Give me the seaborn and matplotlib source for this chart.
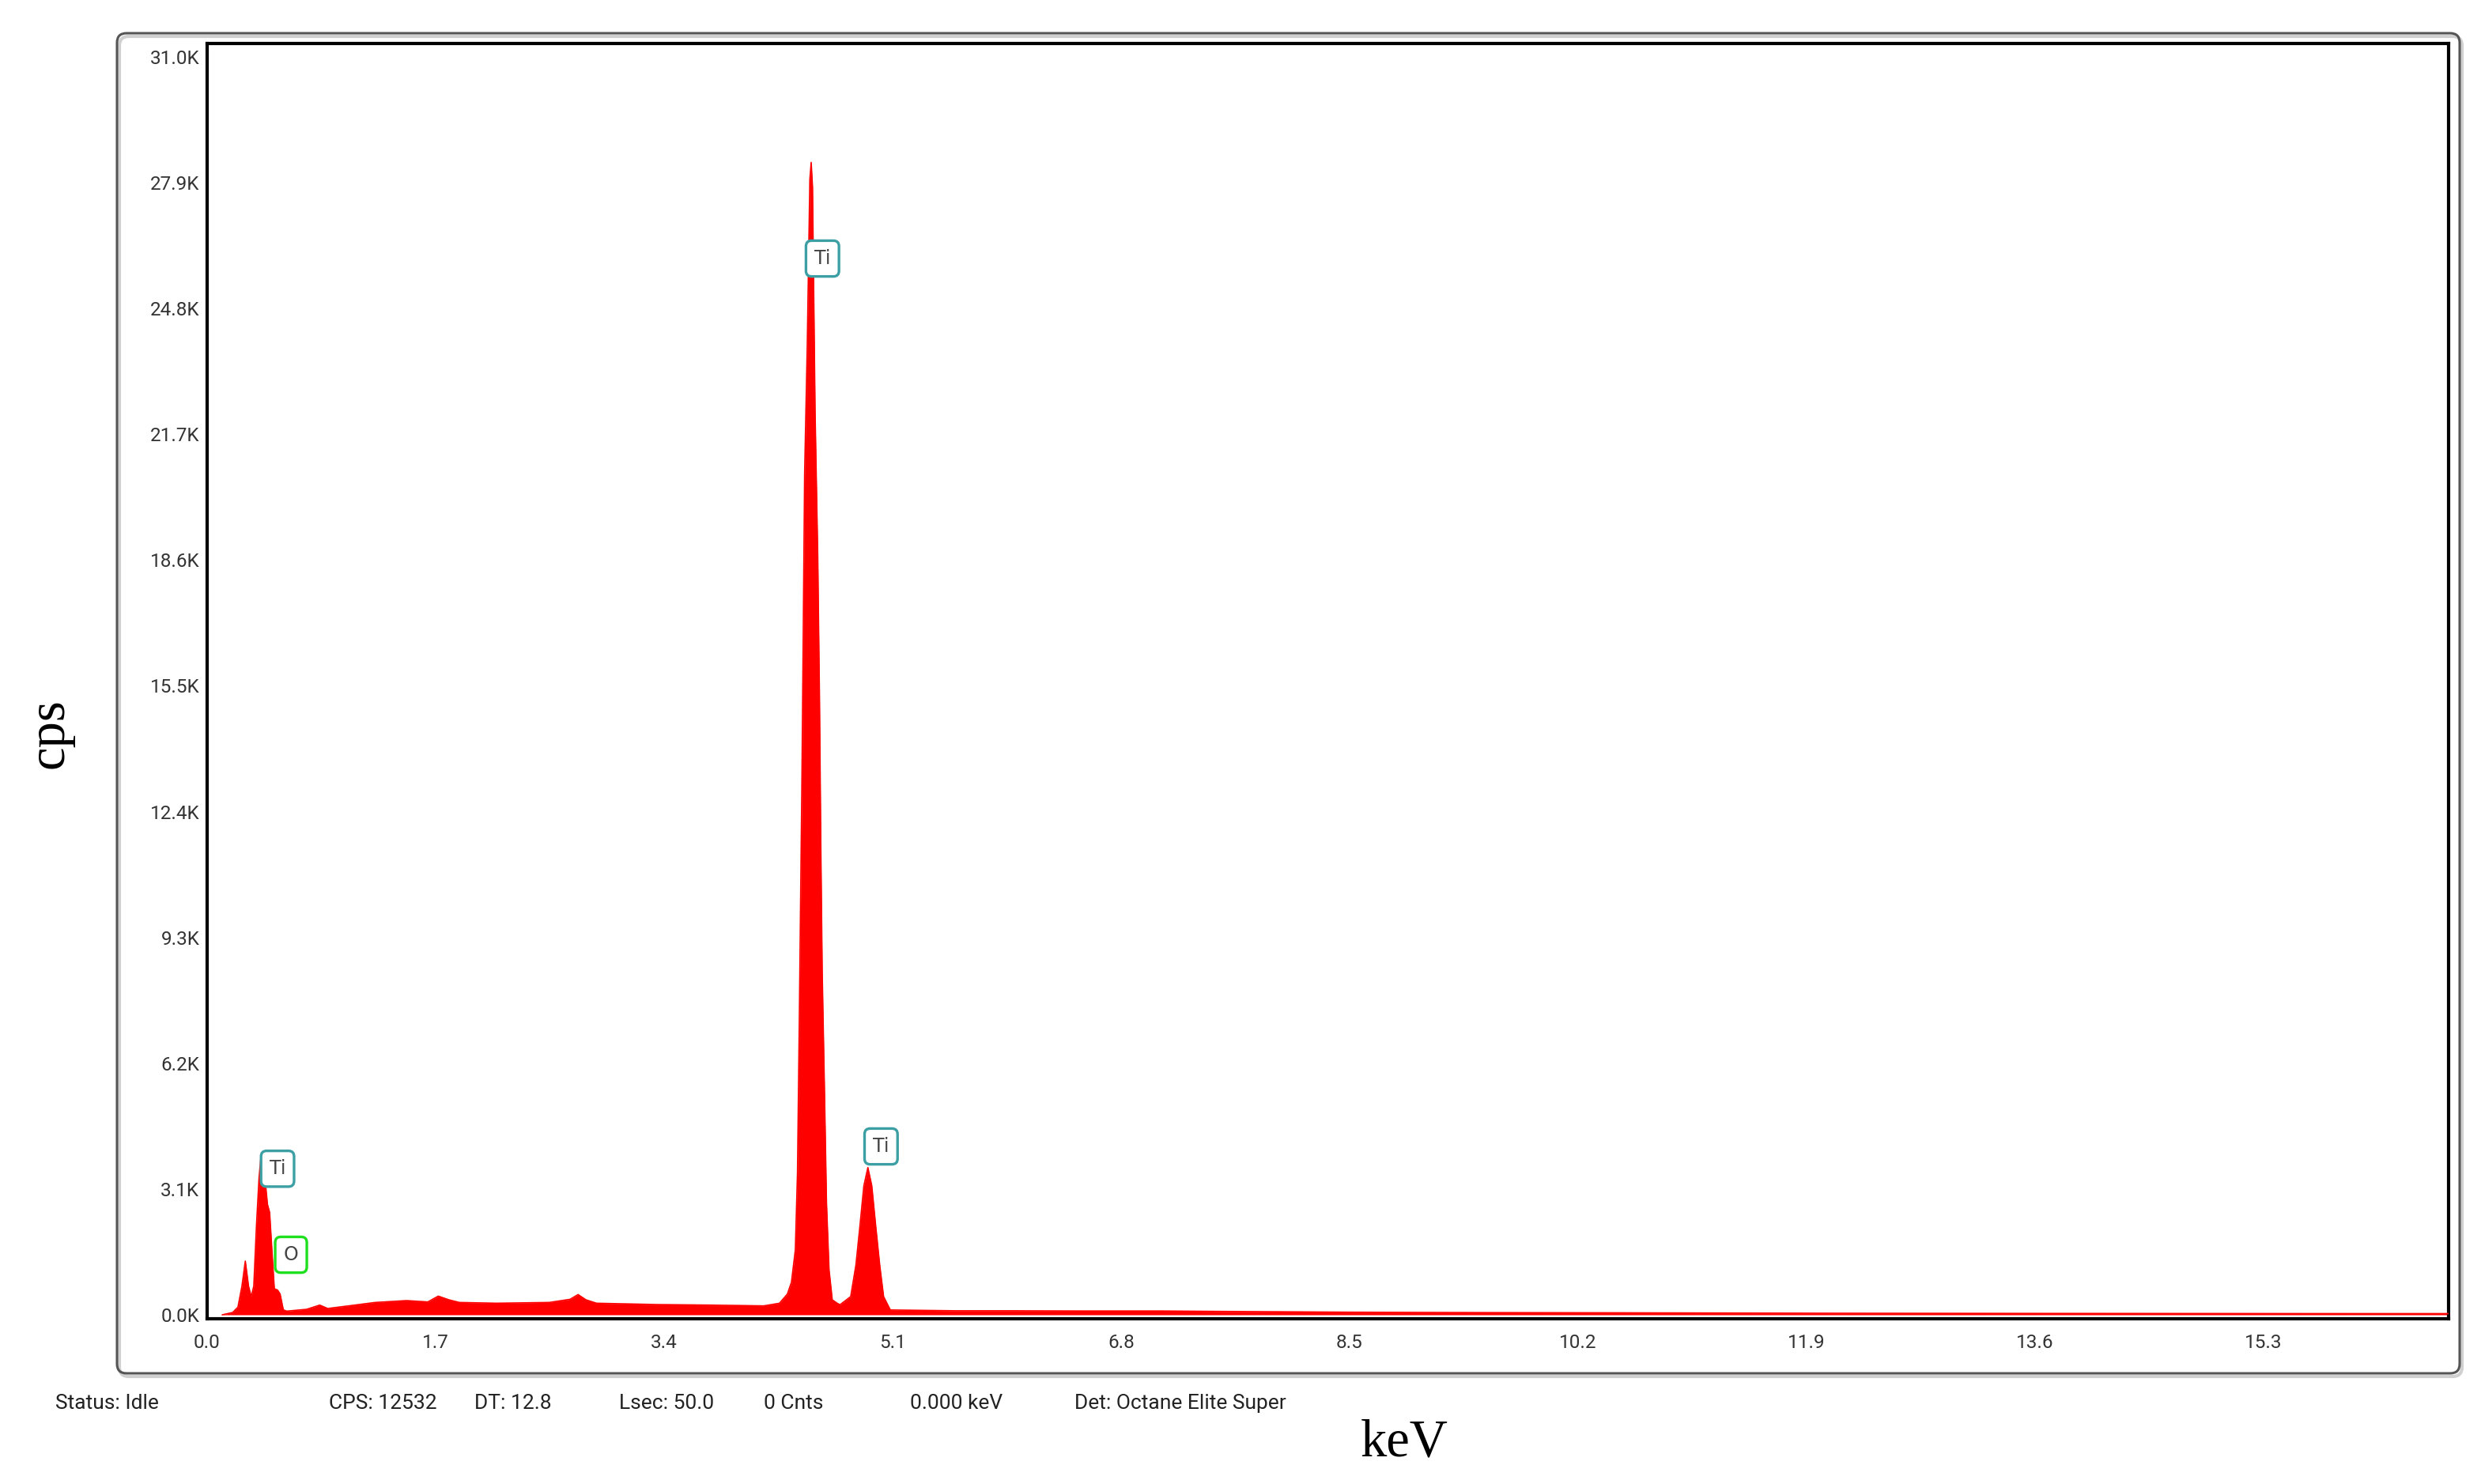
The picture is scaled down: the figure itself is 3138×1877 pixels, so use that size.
import numpy as np
import matplotlib
matplotlib.use("Agg")
import matplotlib.pyplot as plt
import seaborn as sns
from matplotlib.patches import FancyBboxPatch

# ---------------- data ----------------
energy_kev = [0.112, 0.190, 0.229, 0.259, 0.284, 0.308, 0.328, 0.347, 0.367, 0.386,
              0.402, 0.416, 0.430, 0.449, 0.465, 0.484, 0.500, 0.524, 0.543, 0.567,
              0.592, 0.740, 0.838, 0.897, 1.053, 1.250, 1.485, 1.642, 1.720, 1.799,
              1.877, 2.152, 2.545, 2.701, 2.760, 2.819, 2.898, 3.357, 3.749, 4.142,
              4.259, 4.318, 4.348, 4.377, 4.393, 4.407, 4.416, 4.426, 4.436, 4.446,
              4.466, 4.485, 4.495, 4.505, 4.524, 4.544, 4.557, 4.567, 4.577, 4.593,
              4.609, 4.628, 4.652, 4.691, 4.710, 4.789, 4.828, 4.858, 4.887, 4.917,
              4.946, 4.975, 5.005, 5.034, 5.084, 5.574, 6.000, 6.500, 7.100, 7.500,
              8.000, 8.500, 9.500, 10.500, 12.000, 13.500, 15.000, 16.200, 16.680]
counts_cps = [0, 58, 189, 708, 1325, 708, 448, 708, 2202, 3371,
              3956, 3923, 3371, 2721, 2527, 1487, 643, 611, 513, 123,
              91, 136, 240, 156, 221, 305, 351, 318, 461, 370,
              305, 286, 305, 383, 500, 370, 286, 253, 240, 221,
              286, 513, 800, 1600, 3500, 7370, 10130, 13170, 16850, 20710,
              23930, 27980, 28400, 27800, 22280, 18690, 15190, 11510, 8470, 5710,
              2770, 1110, 370, 280, 250, 450, 1230, 2200, 3180, 3630,
              3180, 2200, 1230, 450, 120, 100, 100, 95, 95, 85,
              75, 65, 55, 50, 40, 35, 32, 30, 30]

x_ticks = [0.0, 1.7, 3.4, 5.1, 6.8, 8.5, 10.2, 11.9, 13.6, 15.3]
x_tick_labels = ["0.0", "1.7", "3.4", "5.1", "6.8", "8.5", "10.2", "11.9", "13.6", "15.3"]
y_ticks = [0, 3100, 6200, 9300, 12400, 15500, 18600, 21700, 24800, 27900, 31000]
y_tick_labels = ["0.0K", "3.1K", "6.2K", "9.3K", "12.4K", "15.5K", "18.6K",
                 "21.7K", "24.8K", "27.9K", "31.0K"]

peak_labels = ["Ti", "Ti", "Ti", "O"]
peak_label_x = [4.579, 5.015, 0.524, 0.624]
peak_label_y = [26030, 4150, 3600, 1480]
peak_label_colors = ["#3b9fa3", "#3b9fa3", "#3b9fa3", "#1ee01e"]

status_texts = ["Status: Idle", "CPS: 12532", "DT: 12.8", "Lsec: 50.0",
                "0 Cnts", "0.000 keV", "Det: Octane Elite Super"]

# ---------------- figure ----------------
sns.set_style("white")
plt.rcParams["font.family"] = ["Roboto", "DejaVu Sans"]

W, H = 3138, 1877
fig = plt.figure(figsize=(W / 100, H / 100), dpi=100)

# background axes in pixel coordinates for frame & status bar
bg = fig.add_axes([0, 0, 1, 1], zorder=-1)
bg.set_xlim(0, W)
bg.set_ylim(H, 0)
bg.axis("off")
shadow = FancyBboxPatch((151, 46), 3111 - 148, 1737 - 42,
                        boxstyle="round,pad=0,rounding_size=12",
                        fill=False, ec="#d0d0d0", lw=3)
bg.add_patch(shadow)
outer = FancyBboxPatch((148, 42), 3111 - 148, 1737 - 42,
                       boxstyle="round,pad=0,rounding_size=12",
                       fill=False, ec="#555555", lw=2.2)
bg.add_patch(outer)
status_x = [70, 416, 600, 783, 966, 1151, 1359]
for sx, st in zip(status_x, status_texts):
    bg.text(sx, 1775, st, fontsize=19, color="#222222", va="center", ha="left",
            family=["Roboto", "DejaVu Sans"])

# main axes
left, right, top, bottom = 262, 3097, 55, 1668
ax = fig.add_axes([left / W, 1 - bottom / H, (right - left) / W, (bottom - top) / H])
ax.set_facecolor("white")

ax.fill_between(energy_kev, counts_cps, 0, color="#ff0000", lw=0, zorder=2)
sns.lineplot(x=energy_kev, y=counts_cps, ax=ax, color="#ff0000", lw=1.2,
             sort=False, estimator=None, zorder=3)

ax.set_xlim(0, 16.68)
ax.set_ylim(-97, 31330)
ax.set_xticks(x_ticks)
ax.set_xticklabels(x_tick_labels)
ax.set_yticks(y_ticks)
ax.set_yticklabels(y_tick_labels)
ax.tick_params(axis="both", direction="out", color="#555555", labelcolor="#333333",
               labelsize=17.5)
ax.tick_params(axis="x", length=5, width=1.5, pad=9)
ax.tick_params(axis="y", length=3, width=1.5, pad=4)
ax.grid(False)
for sp in ax.spines.values():
    sp.set_visible(True)
    sp.set_color("black")
    sp.set_linewidth(3)

for lab, lx, ly, lc in zip(peak_labels, peak_label_x, peak_label_y, peak_label_colors):
    ax.text(lx, ly, lab, fontsize=17, color="#444444", ha="center", va="center",
            family=["DejaVu Sans"], zorder=5,
            bbox=dict(boxstyle="round,pad=0.45,rounding_size=0.3", fc="white",
                      ec=lc, lw=2.4))

ax.set_xlabel("keV", fontsize=48, family=["Liberation Serif", "DejaVu Serif"],
              color="black", va="center")
ax.xaxis.set_label_coords((1776 - left) / (right - left), (bottom - 1825) / (bottom - top))
ax.set_ylabel("cps", fontsize=48, family=["Liberation Serif", "DejaVu Serif"],
              color="black", va="center")
ax.yaxis.set_label_coords((63 - left) / (right - left), (bottom - 928) / (bottom - top))

fig.savefig("out.png", dpi=100)
